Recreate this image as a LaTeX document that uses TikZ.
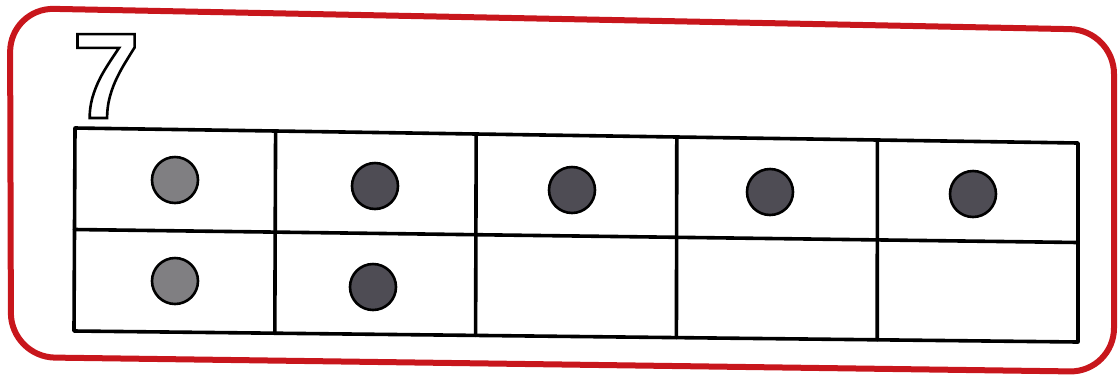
\documentclass[tikz,border=0pt]{standalone}
\usepackage{fontspec}
\usepackage{xcolor}
\usetikzlibrary{calc}
\newfontfamily\digitfont{Liberation Sans}
\newcommand{\outlinetext}[1]{\special{pdf:literal direct 1 Tr 2.6 w}#1\special{pdf:literal direct 0 Tr}}
\definecolor{framered}{RGB}{200,22,28}
\definecolor{dotlight}{RGB}{128,127,130}
\definecolor{dotdark}{RGB}{78,76,84}
\tikzset{
  cardframe/.style = {draw=framered, line width=6pt, rounded corners=44pt},
  gridline/.style  = {draw=black, line width=3.6pt, line cap=round, line join=round},
  lightdot/.style  = {circle, minimum size=46pt, inner sep=0pt,
                      fill=dotlight, draw=black, line width=2.6pt},
  darkdot/.style   = {circle, minimum size=46pt, inner sep=0pt,
                      fill=dotdark,  draw=black, line width=2.6pt},
  numlbl/.style    = {font=\digitfont\bfseries\fontsize{122}{122}\selectfont,
                      inner sep=0pt, anchor=base west}
}

\begin{document}
\begin{tikzpicture}[x=1pt, y=-1pt]
  \useasboundingbox (0,0) rectangle (1119,376);
  % Card border
  \draw[cardframe] (10,8) -- (1114,30) -- (1114,372) -- (11,357) -- cycle;
  % Number
  \node[numlbl] (num) at (72,118) {\outlinetext{7}};
  % Ten frame corners
  \coordinate (tl) at (75,128);
  \coordinate (tr) at (1078,143);
  \coordinate (bl) at (74,331);
  \coordinate (br) at (1078,342);
  % Ten frame lines
  \draw[gridline] (tl) -- (tr) -- (br) -- (bl) -- cycle;
  \draw[gridline] ($(tl)!0.5!(bl)$) -- ($(tr)!0.5!(br)$);
  \draw[gridline] ($(tl)!0.2!(tr)$) -- ($(bl)!0.2!(br)$);
  \draw[gridline] ($(tl)!0.4!(tr)$) -- ($(bl)!0.4!(br)$);
  \draw[gridline] ($(tl)!0.6!(tr)$) -- ($(bl)!0.6!(br)$);
  \draw[gridline] ($(tl)!0.8!(tr)$) -- ($(bl)!0.8!(br)$);
  % Top row counters
  \node[lightdot] (d1) at (175,180) {};
  \node[darkdot]  (d2) at (375,186) {};
  \node[darkdot]  (d3) at (572,190) {};
  \node[darkdot]  (d4) at (770,192) {};
  \node[darkdot]  (d5) at (973,194) {};
  % Bottom row counters
  \node[lightdot] (d6) at (175,281) {};
  \node[darkdot]  (d7) at (373,287) {};
\end{tikzpicture}
\end{document}
